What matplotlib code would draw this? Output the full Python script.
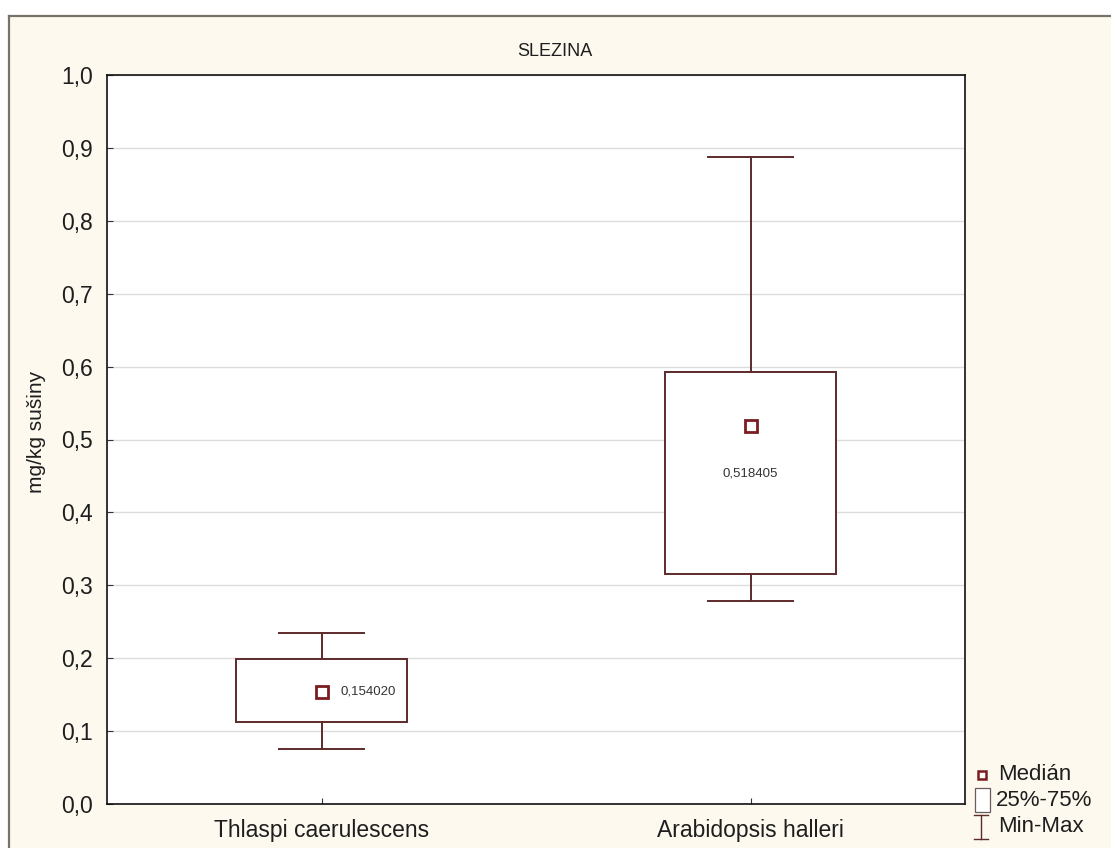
"""Box plot: spleen concentration, min/max, quartiles and median."""
import matplotlib
matplotlib.use("Agg")
import matplotlib.pyplot as plt
from matplotlib.patches import Rectangle
from matplotlib.lines import Line2D

plt.rcParams["font.family"] = ["Liberation Sans", "DejaVu Sans"]

species = ["Thlaspi caerulescens", "Arabidopsis halleri"]
v_min = [0.075, 0.278]
q25 = [0.112, 0.316]
median = [0.154020, 0.518405]
q75 = [0.199, 0.593]
v_max = [0.234, 0.888]
y_ticks = [0.0, 0.1, 0.2, 0.3, 0.4, 0.5, 0.6, 0.7, 0.8, 0.9, 1.0]

W, H = 1111, 848
line_col = "#5e2a2c"
med_col = "#7a1c20"
bg = "#fdf9ef"
txt = "#1e1e1e"

fig = plt.figure(figsize=(W / 100, H / 100), dpi=100, facecolor="white")


def fx(x):
    return x / W


def fy(y):
    return 1 - y / H


# beige panel with grey frame on top and left
fig.add_artist(Rectangle((fx(9), 0), 1 - fx(9), fy(16), transform=fig.transFigure,
                         facecolor=bg, edgecolor="none", zorder=-10))
fig.add_artist(Line2D([fx(9), 1], [fy(16)] * 2, transform=fig.transFigure,
                      color="#77736c", lw=1.6))
fig.add_artist(Line2D([fx(9), fx(9)], [0, fy(16)], transform=fig.transFigure,
                      color="#77736c", lw=1.6))

ax = fig.add_axes([fx(107), fy(804), (965 - 107) / W, (804 - 75) / H])
ax.set_facecolor("white")
ax.set_xlim(-0.5, 1.5)
ax.set_ylim(0, 1.0)
ax.set_yticks(y_ticks)
ax.set_yticklabels([f"{t:.1f}".replace(".", ",") for t in y_ticks], fontsize=16.5, color=txt)
ax.set_xticks(range(len(species)))
ax.set_xticklabels(species, fontsize=16.5, color=txt)
ax.tick_params(direction="in", length=4, width=0.8, color="#333333")
ax.tick_params(axis="y", pad=10)
ax.tick_params(axis="x", pad=11)
ax.grid(axis="y", color="#dcdcdc", lw=1)
ax.set_axisbelow(True)
for s in ax.spines.values():
    s.set_color("#111111")
    s.set_linewidth(1.2)

box_w = 0.2
cap_w = 0.1
for i in range(len(species)):
    ax.add_patch(Rectangle((i - box_w, q25[i]), 2 * box_w, q75[i] - q25[i],
                           facecolor="white", edgecolor=line_col, lw=1.4, zorder=3))
    ax.plot([i, i], [q75[i], v_max[i]], color=line_col, lw=1.4, zorder=3)
    ax.plot([i, i], [v_min[i], q25[i]], color=line_col, lw=1.4, zorder=3)
    ax.plot([i - cap_w, i + cap_w], [v_max[i]] * 2, color=line_col, lw=1.4, zorder=3)
    ax.plot([i - cap_w, i + cap_w], [v_min[i]] * 2, color=line_col, lw=1.4, zorder=3)
    ax.plot(i, median[i], marker="s", ms=8, mfc="white", mec=med_col, mew=2, zorder=4)
    lab = f"{median[i]:.6f}".replace(".", ",")
    if i == 0:
        ax.text(i + 0.045, median[i], lab, fontsize=9.5, color="#333333",
                va="center", ha="left", zorder=5)
    else:
        ax.text(i, median[i] - 0.065, lab, fontsize=9.5, color="#333333",
                va="center", ha="center", zorder=5)

# title and y label are centred on the panel, not the axes
fig.text(fx(555), fy(52), "SLEZINA", fontsize=13, ha="center", va="center", color=txt)
fig.text(fx(37), fy(432), "mg/kg sušiny", fontsize=15, rotation=90,
         ha="center", va="center", color=txt)

# legend drawn in figure pixels
fig.add_artist(Line2D([fx(982)], [fy(775)], transform=fig.transFigure, marker="s", ms=6,
                      mfc="white", mec=med_col, mew=1.8, ls="none"))
fig.text(fx(998), fy(774), "Medián", fontsize=16, va="center", ha="left", color=txt)
fig.add_artist(Rectangle((fx(975), fy(812)), fx(15), 24 / H, transform=fig.transFigure,
                         facecolor="white", edgecolor="#6a5a5a", lw=0.9))
fig.text(fx(996), fy(800), "25%-75%", fontsize=16, va="center", ha="left", color=txt)
for xs, ys in [([981, 981], [815, 839]), ([974, 988], [815, 815]), ([974, 988], [839, 839])]:
    fig.add_artist(Line2D([fx(x) for x in xs], [fy(y) for y in ys],
                          transform=fig.transFigure, color=line_col, lw=1.0))
fig.text(fx(998), fy(826), "Min-Max", fontsize=16, va="center", ha="left", color=txt)

fig.savefig("out.png", dpi=100, facecolor=fig.get_facecolor())
